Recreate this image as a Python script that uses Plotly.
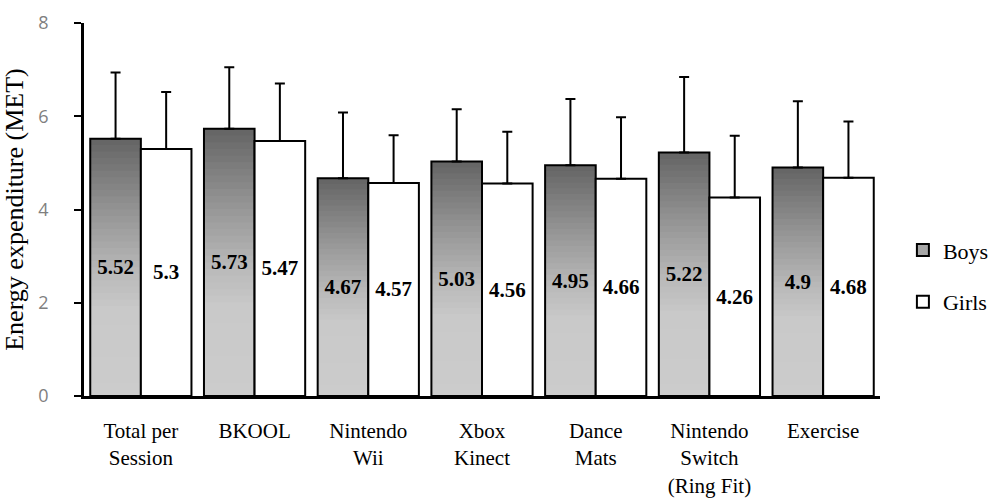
import plotly.graph_objects as go

categories = ["Total per<br>Session", "BKOOL", "Nintendo<br>Wii", "Xbox<br>Kinect",
              "Dance<br>Mats", "Nintendo<br>Switch<br>(Ring Fit)", "Exercise"]
boys = [5.52, 5.73, 4.67, 5.03, 4.95, 5.22, 4.90]
girls = [5.30, 5.47, 4.57, 4.56, 4.66, 4.26, 4.68]
boys_sd = [1.42, 1.32, 1.41, 1.12, 1.42, 1.62, 1.42]
girls_sd = [1.22, 1.23, 1.02, 1.11, 1.32, 1.32, 1.21]
y_ticks = [0, 2, 4, 6, 8]

SERIF = "Liberation Serif, Times New Roman, serif"
SANS = "Open Sans, Liberation Sans, Arial, sans-serif"

fig = go.Figure()

# gradient for Boys bars: overlapping bars, full height (dark) first, shorter lighter on top
N = 40
stops = [(1.0, 102), (0.75, 145), (0.5, 184), (0.35, 201), (0.0, 204)]

def shade(f):
    for (f1, c1), (f2, c2) in zip(stops[:-1], stops[1:]):
        if f2 <= f <= f1:
            t = (f - f2) / (f1 - f2) if f1 != f2 else 0
            return int(round(c2 + t * (c1 - c2)))
    return stops[-1][1]

for k in range(N):
    frac = (N - k) / N
    g = shade(frac)
    fig.add_trace(go.Bar(
        x=categories, y=[v * frac for v in boys], offsetgroup="b",
        marker=dict(color=f"rgb({g},{g},{g})", line=dict(width=0)),
        showlegend=False, hoverinfo="skip"))

label_font = dict(family=SERIF, size=21, color="black", weight="bold")

# Boys outline + labels + error bars
fig.add_trace(go.Bar(
    x=categories, y=boys, offsetgroup="b", name="Boys", showlegend=False,
    marker=dict(color="rgba(0,0,0,0)", line=dict(color="black", width=2)),
    error_y=dict(type="data", array=boys_sd, arrayminus=[0] * len(boys), symmetric=False,
                 color="black", thickness=2, width=5),
    text=[f"{v:g}" for v in boys], textposition="inside", insidetextanchor="middle",
    constraintext="none", textfont=label_font))

# Girls
fig.add_trace(go.Bar(
    x=categories, y=girls, offsetgroup="g", name="Girls", legendrank=2, legendgroup="g",
    marker=dict(color="white", line=dict(color="black", width=2)),
    error_y=dict(type="data", array=girls_sd, arrayminus=[0] * len(girls), symmetric=False,
                 color="black", thickness=2, width=5),
    text=[f"{v:g}" for v in girls], textposition="inside", insidetextanchor="middle",
    constraintext="none", textfont=label_font))

# legend entry for Boys
fig.add_trace(go.Bar(
    x=categories, y=[None] * len(categories), offsetgroup="b", name="Boys",
    legendrank=1, legendgroup="b",
    marker=dict(color="#a6a6a6", line=dict(color="black", width=2)),
    hoverinfo="skip"))

fig.update_layout(
    width=1000, height=503,
    barmode="group", bargap=0.11, bargroupgap=0,
    plot_bgcolor="white", paper_bgcolor="white",
    margin=dict(l=84, r=0, t=23, b=107),
    font=dict(family=SERIF, color="black"),
    showlegend=True,
    legend=dict(x=0.894, y=0.321, xanchor="left", yanchor="middle",
                font=dict(family=SERIF, size=22, color="black"),
                tracegroupgap=20, traceorder="grouped", itemwidth=30,
                borderwidth=0, bgcolor="rgba(0,0,0,0)"),
    xaxis=dict(domain=[0, 0.869], showline=True, linecolor="black", linewidth=2.5,
               ticks="", automargin=False, ticklabelstandoff=14,
               tickfont=dict(family=SERIF, size=21, color="black")),
    yaxis=dict(range=[0, 8], tickvals=y_ticks, showgrid=False, zeroline=False,
               automargin=False,
               showline=True, linecolor="black", linewidth=2.5,
               ticks="outside", ticklen=7, tickwidth=2, tickcolor="black",
               ticklabelstandoff=22,
               tickfont=dict(family=SANS, size=18, color="#7f7f7f"),
               title=dict(text="Energy expenditure (MET)", standoff=10,
                          font=dict(family=SERIF, size=26, color="black"))),
)

fig.write_html("out.html", config={"displayModeBar": False},
               post_script="document.body.style.margin='0';")
